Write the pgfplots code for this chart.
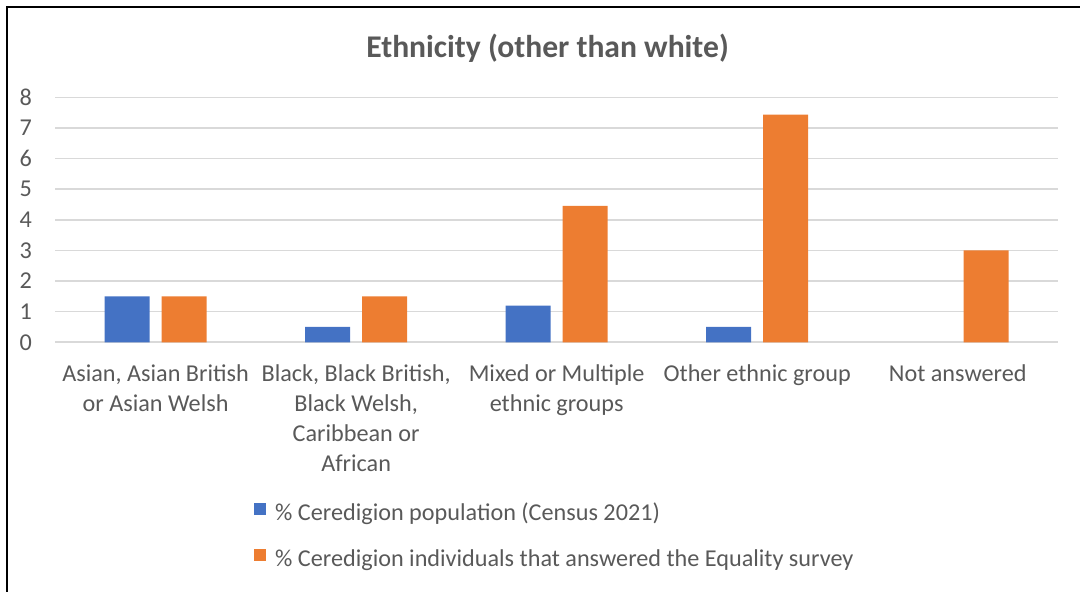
\documentclass[border=0pt]{standalone}
\usepackage{fontspec}
\setmainfont{Carlito}
\usepackage{pgfplots}
\pgfplotsset{compat=1.18}
\definecolor{cblue}{HTML}{4472C4}
\definecolor{corange}{HTML}{ED7D31}
\definecolor{txt}{HTML}{595959}
\definecolor{gridc}{HTML}{D9D9D9}
\newcommand{\lblfont}{\fontsize{12.1}{15}\selectfont}
\begin{document}
\begin{tikzpicture}
\useasboundingbox (0,0) rectangle (540pt,296pt);
% chart frame (cut off at right and bottom)
\draw[line width=1pt] (3.5pt,-2pt) -- (3.5pt,292.5pt) -- (542pt,292.5pt);
\node[anchor=base, font=\fontsize{15.8}{18}\selectfont\bfseries, text=txt]
  at (273.75pt,267.3pt) {Ethnicity (other than white)};
\begin{axis}[
  at={(27.65pt,124.85pt)}, anchor=south west,
  scale only axis, width=501.35pt, height=122.4pt,
  ybar=6pt, bar width=22.5pt,
  xmin=-0.5, xmax=4.5, ymin=0, ymax=8,
  xtick={0,1,2,3,4},
  xticklabels={{Asian, Asian British\\or Asian Welsh},
               {Black, Black British,\\Black Welsh,\\Caribbean or\\African},
               {Mixed or Multiple\\ethnic groups},
               {Other ethnic group},
               {Not answered}},
  ytick={0,1,...,8},
  axis line style={draw=none},
  major tick length=0pt,
  ymajorgrids,
  grid style={gridc, line width=0.8pt},
  /pgf/number format/assume math mode=true,
  tick label style={font=\lblfont, text=txt},
  yticklabel style={anchor=east, inner sep=0pt, xshift=-11.5pt},
  xticklabel style={anchor=north, align=center, inner sep=0pt, yshift=-10.8pt},
  legend style={at={(0.192,-0.7994)}, anchor=west, draw=none, fill=none,
    font=\lblfont, text=txt, row sep=11pt, column sep=4.5pt,
    nodes={inner sep=0pt, text height=8pt, text depth=3pt}},
  legend cell align=left,
  legend image code/.code={\fill[#1] (0pt,0.5pt) rectangle (6pt,6.5pt);},
]
\addplot[fill=cblue, draw=none] coordinates {(0,1.5) (1,0.5) (2,1.2) (3,0.5)};
\addplot[fill=corange, draw=none] coordinates {(0,1.5) (1,1.5) (2,4.46) (3,7.44) (4,3.0)};
\legend{\% Ceredigion population (Census 2021),
        \% Ceredigion individuals that answered the Equality survey}
\end{axis}
\end{tikzpicture}
\end{document}
